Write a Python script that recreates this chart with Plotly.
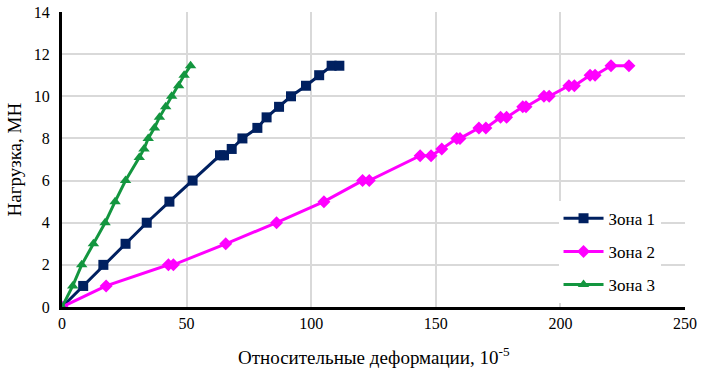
import plotly.graph_objects as go

zone1_x = [0, 8.5, 16.6, 25.5, 34.0, 43.1, 52.4, 63.4, 65.0, 68.1, 72.4, 78.4, 82.1, 87.1, 91.9, 97.9, 103.2, 108.2, 111.3]
zone1_y = [0, 1, 2, 3, 4, 5, 6, 7.2, 7.2, 7.5, 8.0, 8.5, 9.0, 9.5, 10.0, 10.5, 11.0, 11.45, 11.45]

zone2_x = [0, 17.7, 42.7, 44.7, 65.7, 86.1, 105.1, 120.6, 123.3, 143.7, 148.1, 152.4, 158.4, 159.7,
           167.3, 170.1, 176.0, 178.4, 184.9, 186.2, 193.4, 195.5, 203.4, 205.6, 211.9, 213.9, 220.3, 227.5]
zone2_y = [0, 1, 2, 2, 3, 4, 5, 6, 6, 7.18, 7.18, 7.5, 8.0, 8.0,
           8.5, 8.5, 9.0, 9.0, 9.5, 9.5, 10.0, 10.0, 10.5, 10.5, 11.0, 11.0, 11.45, 11.45]

zone3_x = [0, 4.3, 7.9, 12.6, 17.3, 21.3, 25.5, 31.0, 32.9, 34.6, 37.1, 39.1, 41.6, 44.0, 46.8, 49.0, 51.6]
zone3_y = [0, 1, 2, 3, 4, 5, 6, 7.1, 7.5, 8.0, 8.5, 9.0, 9.5, 10.0, 10.5, 11.0, 11.45]

names = ["Зона 1", "Зона 2", "Зона 3"]
colors = ["#002060", "#FF00FF", "#13963F"]
symbols = ["square", "diamond", "triangle-up"]
sizes = [10, 10, 10]

font = "Liberation Serif, Times New Roman, serif"

fig = go.Figure()
for i, (xs, ys, n, c, s, sz) in enumerate(zip([zone1_x, zone2_x, zone3_x], [zone1_y, zone2_y, zone3_y],
                                                names, colors, symbols, sizes)):
    fig.add_trace(go.Scatter(x=xs, y=ys, name=n, mode="lines+markers", legendgroup=f"g{i}",
                             line=dict(color=c, width=3),
                             marker=dict(symbol=s, size=sz, color=c)))

fig.update_layout(
    width=713, height=375,
    margin=dict(l=62, r=28, t=12, b=68),
    paper_bgcolor="white", plot_bgcolor="white",
    font=dict(family=font, size=16, color="black"),
    showlegend=True,
    legend=dict(x=0.797, y=0.36, xanchor="left", yanchor="top",
                bgcolor="white", font=dict(size=17, family=font, color="black"),
                tracegroupgap=8, itemwidth=40),
    xaxis=dict(range=[0, 250], dtick=50, showgrid=True, gridcolor="#D9D9D9", gridwidth=2,
               zeroline=False, showline=True, linecolor="black", linewidth=3,
               ticks="", automargin=False, tickfont=dict(size=16, family=font, color="black")),
    yaxis=dict(range=[0, 14], dtick=2, showgrid=True, gridcolor="#D9D9D9", gridwidth=2,
               zeroline=False, showline=True, linecolor="black", linewidth=3,
               ticks="", automargin=False, ticklabelstandoff=6,
               tickfont=dict(size=16, family=font, color="black")),
    annotations=[
        dict(text="Относительные деформации, 10<sup>-5</sup>", xref="paper", yref="paper",
             x=0.5, y=-0.165, xanchor="center", yanchor="middle", showarrow=False,
             font=dict(size=19, family=font, color="black")),
        dict(text="Нагрузка, МН", xref="paper", yref="paper", textangle=-90,
             x=-0.077, y=0.5, xanchor="center", yanchor="middle", showarrow=False,
             font=dict(size=19, family=font, color="black")),
    ],
)

fig.write_html("out.html", config={"responsive": False, "displayModeBar": False},
               post_script="document.body.style.margin='0';document.body.style.padding='0';")
